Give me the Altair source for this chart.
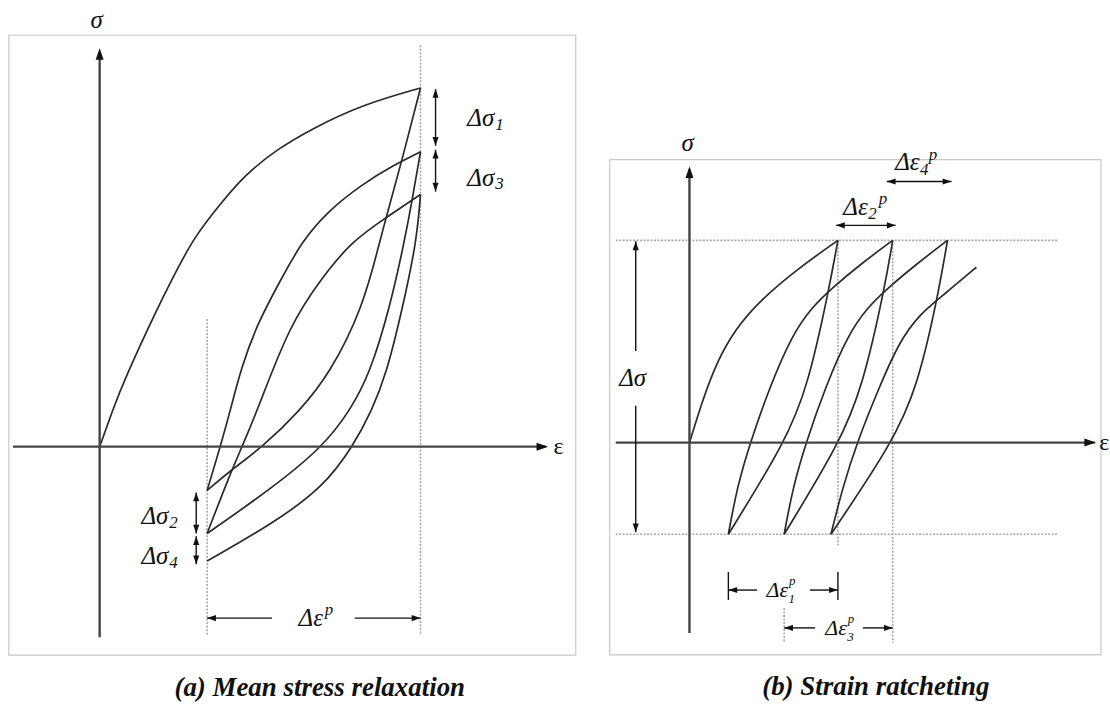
import altair as alt
import pandas as pd

# ================= Panel (a): mean stress relaxation =================
# strain (eps) / stress (sig) values (eps_max = 1, sig_peak1 = 1)
A_LOAD_EPS = [0, 0.040, 0.075, 0.180, 0.227, 0.295, 0.382, 0.453, 0.556, 0.661, 0.817, 1.0]
A_LOAD_SIG = [0, 0.100, 0.183, 0.386, 0.469, 0.586, 0.683, 0.758, 0.831, 0.886, 0.953, 1.0]
A_UNL1_EPS = [1.0, 0.941, 0.894, 0.873, 0.820, 0.717, 0.624, 0.509, 0.407, 0.335]
A_UNL1_SIG = [1.0, 0.794, 0.642, 0.572, 0.386, 0.203, 0.100, 0.0, -0.067, -0.122]
A_REL2_EPS = [0.335, 0.376, 0.407, 0.441, 0.491, 0.562, 0.630, 0.711, 0.817, 0.919, 1.0]
A_REL2_SIG = [-0.122, 0.0, 0.100, 0.219, 0.342, 0.461, 0.572, 0.656, 0.731, 0.786, 0.822]
A_UNL2_EPS = [1.0, 0.975, 0.950, 0.904, 0.842, 0.780, 0.696, 0.540, 0.335]
A_UNL2_SIG = [0.822, 0.692, 0.572, 0.386, 0.203, 0.100, 0.0, -0.114, -0.242]
A_REL3_EPS = [0.335, 0.407, 0.444, 0.491, 0.593, 0.696, 0.786, 0.888, 1.0]
A_REL3_SIG = [-0.242, -0.075, 0.0, 0.100, 0.342, 0.475, 0.572, 0.636, 0.703]
A_UNL3_EPS = [1.0, 0.988, 0.944, 0.894, 0.848, 0.789, 0.696, 0.540, 0.335]
A_UNL3_SIG = [0.703, 0.572, 0.386, 0.203, 0.100, 0.0, -0.114, -0.214, -0.319]

A_AXES = [(0.0, -0.531, 0.0, 1.10), (-0.270, 0.0, 1.39, 0.0)]
A_AXIS_HEADS = [(0.0, 1.111, 0), (1.398, 0.0, 90)]
A_DOTTED = [(1.0, 1.119, 1.0, -0.525), (0.335, 0.356, 0.335, -0.525)]
A_ARROWS = [(1.047, 0.997, 1.047, 0.839), (1.047, 0.828, 1.047, 0.711),
            (0.301, -0.128, 0.301, -0.242), (0.301, -0.250, 0.301, -0.328),
            (0.537, -0.478, 0.335, -0.478), (0.795, -0.478, 1.0, -0.478)]
A_HEADS = [(1.047, 0.997, 0), (1.047, 0.839, 180), (1.047, 0.828, 0), (1.047, 0.711, 180),
           (0.301, -0.128, 0), (0.301, -0.242, 180), (0.301, -0.250, 0), (0.301, -0.328, 180),
           (0.335, -0.478, 270), (1.0, -0.478, 90)]
A_BOX = [(-0.283, -0.581, 1.484, 1.147)]
A_ITALIC = [("σ", -0.009, 1.189)]
A_UPRIGHT = [("ε", 1.430, 0.0)]
A_MAIN = [("Δσ", 1.230, 0.917), ("Δσ", 1.230, 0.750), ("Δσ", 0.214, -0.194),
          ("Δσ", 0.214, -0.306), ("Δε", 0.696, -0.478)]
A_MAIN_SMALL = []
A_SUB = [("1", 1.233, 0.897), ("3", 1.233, 0.731), ("2", 0.217, -0.214), ("4", 0.217, -0.325)]
A_SUP = [("p", 0.702, -0.456)]
A_SUBSUP_SMALL = []
A_CENTER = []
A_CAPTION = [("(a) Mean stress relaxation", 0.686, -0.672)]
A_XDOM = [-0.3075, 1.5342]
A_YDOM = [-0.7167, 1.2389]

# ================= Panel (b): strain ratcheting =================
B_LOAD_EPS = [0, 0.087, 0.181, 0.309, 0.477, 0.725, 1.0]
B_LOAD_SIG = [0, 0.207, 0.394, 0.562, 0.704, 0.857, 1.0]
B_UNL1_EPS = [1.0, 0.940, 0.799, 0.644, 0.262]
B_UNL1_SIG = [1.0, 0.759, 0.281, 0.0, -0.453]
B_REL2_EPS = [0.262, 0.322, 0.409, 0.544, 0.691, 0.826, 0.960, 1.161, 1.369]
B_REL2_SIG = [-0.453, -0.217, 0.0, 0.281, 0.532, 0.670, 0.764, 0.887, 1.0]
B_UNL2_EPS = [1.369, 1.315, 1.168, 1.013, 0.638]
B_UNL2_SIG = [1.0, 0.764, 0.281, 0.0, -0.453]
B_REL3_EPS = [0.638, 0.698, 0.785, 0.919, 1.067, 1.201, 1.336, 1.537, 1.738]
B_REL3_SIG = [-0.453, -0.217, 0.0, 0.281, 0.532, 0.670, 0.764, 0.887, 1.0]
B_UNL3_EPS = [1.738, 1.671, 1.537, 1.369, 0.953]
B_UNL3_SIG = [1.0, 0.714, 0.281, 0.0, -0.453]
B_REL4_EPS = [0.953, 1.034, 1.128, 1.282, 1.416, 1.550, 1.718, 1.933]
B_REL4_SIG = [-0.453, -0.217, 0.0, 0.281, 0.502, 0.635, 0.734, 0.867]

B_AXES = [(0.0, -0.941, 0.0, 1.35), (-0.497, 0.0, 2.73, 0.0)]
B_AXIS_HEADS = [(0.0, 1.365, 0), (2.738, 0.0, 90)]
B_DOTTED = [(-0.497, 1.0, 2.483, 1.0), (-0.497, -0.453, 2.483, -0.453),
            (1.0, 1.0, 1.0, -0.507), (1.369, 1.0, 1.369, -0.990),
            (0.638, -0.818, 0.638, -0.990)]
B_ARROWS = [(-0.362, 0.453, -0.362, 0.995), (-0.362, 0.182, -0.362, -0.443),
            (0.987, 1.074, 1.389, 1.074), (1.329, 1.291, 1.765, 1.291),
            (0.456, -0.729, 0.262, -0.729), (0.812, -0.729, 1.0, -0.729),
            (0.262, -0.640, 0.262, -0.778), (1.0, -0.640, 1.0, -0.778),
            (0.846, -0.916, 0.638, -0.916), (1.168, -0.916, 1.369, -0.916)]
B_HEADS = [(-0.362, 0.995, 0), (-0.362, -0.443, 180), (0.987, 1.074, 270), (1.389, 1.074, 90),
           (1.329, 1.291, 270), (1.765, 1.291, 90), (0.262, -0.729, 270), (1.0, -0.729, 90),
           (0.638, -0.916, 270), (1.369, -0.916, 90)]
B_BOX = [(-0.537, -1.049, 2.772, 1.399)]
B_ITALIC = [("σ", -0.013, 1.483)]
B_UPRIGHT = [("ε", 2.760, 0.0)]
B_MAIN = [("Δε", 1.201, 1.167), ("Δε", 1.550, 1.389)]
B_MAIN_SMALL = [("Δε", 0.664, -0.729), ("Δε", 1.060, -0.916)]
B_SUB = [("2", 1.204, 1.128), ("4", 1.553, 1.350)]
B_SUP = [("p", 1.275, 1.202), ("p", 1.611, 1.424)]
B_SUBSUP_SMALL = [("1", 0.667, -0.775), ("p", 0.670, -0.683),
                  ("3", 1.063, -0.963), ("p", 1.066, -0.872)]
B_CENTER = [("Δσ", -0.383, 0.320)]
B_CAPTION = [("(b) Strain ratcheting", 1.255, -1.207)]
B_XDOM = [-0.644, 2.826]
B_YDOM = [-1.291, 2.177]

HEAD_PATH = "M0,0L0.9,2.6L-0.9,2.6Z"
FONT = "Liberation Serif"


def curves_df(curves):
    rows = []
    for name, (eps, sig) in curves.items():
        for i, (e, s) in enumerate(zip(eps, sig)):
            rows.append({"curve": name, "i": i, "eps": e, "sig": s})
    return pd.DataFrame(rows)


def seg_df(segs):
    return pd.DataFrame(segs, columns=["eps", "sig", "eps2", "sig2"])


def head_df(h):
    return pd.DataFrame(h, columns=["eps", "sig", "ang"])


def txt_df(t):
    return pd.DataFrame(t, columns=["t", "eps", "sig"])


def panel(curves, axes, axis_heads, dotted, arrows, heads, box, italic, upright,
          mains, mains_small, subs, sups, subsup_small, centers, caption,
          xdom, ydom, width, height, eps_align):
    xs = alt.Scale(domain=xdom, nice=False, zero=False)
    ys = alt.Scale(domain=ydom, nice=False, zero=False)
    X = alt.X("eps:Q", scale=xs, axis=None)
    Y = alt.Y("sig:Q", scale=ys, axis=None)

    def rules(segs, **kw):
        return alt.Chart(seg_df(segs)).mark_rule(**kw).encode(
            x=X, y=Y, x2="eps2:Q", y2="sig2:Q")

    def heads_layer(h, size):
        return alt.Chart(head_df(h)).mark_point(
            shape=HEAD_PATH, filled=True, color="#111111", opacity=1, size=size,
            strokeWidth=0).encode(x=X, y=Y, angle=alt.Angle("ang:Q", scale=None))

    def texts(t, **kw):
        return alt.Chart(txt_df(t)).mark_text(font=FONT, baseline="middle",
                                              color="#111111", **kw).encode(
            x=X, y=Y, text="t:N")

    layers = [
        alt.Chart(pd.DataFrame(box, columns=["eps", "sig", "eps2", "sig2"])).mark_rect(
            fillOpacity=0, stroke="#c8c8c8", strokeWidth=1.2).encode(
            x=X, y=Y, x2="eps2:Q", y2="sig2:Q"),
        rules(dotted, color="#a8a8a8", strokeWidth=1.6, strokeDash=[2, 1.5]),
        alt.Chart(curves_df(curves)).mark_line(
            interpolate="basis", color="#2a2a2a", strokeWidth=1.7).encode(
            x=X, y=Y, detail="curve:N", order="i:Q"),
        rules(axes, color="#454545", strokeWidth=2.4),
        rules(arrows, color="#111111", strokeWidth=1.4),
        heads_layer(axis_heads, 80),
        heads_layer(heads, 46),
        texts(italic, fontSize=25, fontStyle="italic", align="center"),
        texts(upright, fontSize=24, align=eps_align),
        texts(mains, fontSize=25, fontStyle="italic", align="right"),
        texts(subs, fontSize=17, fontStyle="italic", align="left"),
        texts(sups, fontSize=17, fontStyle="italic", align="left"),
        texts(caption, fontSize=27, fontStyle="italic", fontWeight="bold", align="center"),
    ]
    if mains_small:
        layers.append(texts(mains_small, fontSize=22, fontStyle="italic", align="right"))
        layers.append(texts(subsup_small, fontSize=13, fontStyle="italic", align="left"))
    if centers:
        layers.append(texts(centers, fontSize=25, fontStyle="italic", align="center"))
    return alt.layer(*layers).properties(width=width, height=height)


panel_a = panel(
    {"load": (A_LOAD_EPS, A_LOAD_SIG), "u1": (A_UNL1_EPS, A_UNL1_SIG),
     "r2": (A_REL2_EPS, A_REL2_SIG), "u2": (A_UNL2_EPS, A_UNL2_SIG),
     "r3": (A_REL3_EPS, A_REL3_SIG), "u3": (A_UNL3_EPS, A_UNL3_SIG)},
    A_AXES, A_AXIS_HEADS, A_DOTTED, A_ARROWS, A_HEADS, A_BOX, A_ITALIC, A_UPRIGHT,
    A_MAIN, A_MAIN_SMALL, A_SUB, A_SUP, A_SUBSUP_SMALL, A_CENTER, A_CAPTION,
    A_XDOM, A_YDOM, 593, 704, "center")

panel_b = panel(
    {"load": (B_LOAD_EPS, B_LOAD_SIG), "u1": (B_UNL1_EPS, B_UNL1_SIG),
     "r2": (B_REL2_EPS, B_REL2_SIG), "u2": (B_UNL2_EPS, B_UNL2_SIG),
     "r3": (B_REL3_EPS, B_REL3_SIG), "u3": (B_UNL3_EPS, B_UNL3_SIG),
     "r4": (B_REL4_EPS, B_REL4_SIG)},
    B_AXES, B_AXIS_HEADS, B_DOTTED, B_ARROWS, B_HEADS, B_BOX, B_ITALIC, B_UPRIGHT,
    B_MAIN, B_MAIN_SMALL, B_SUB, B_SUP, B_SUBSUP_SMALL, B_CENTER, B_CAPTION,
    B_XDOM, B_YDOM, 517, 704, "left")

chart = alt.hconcat(panel_a, panel_b, spacing=0).properties(
    padding=0, background="white"
).configure_view(stroke="transparent")

chart.save("out.html", embed_options={"renderer": "svg", "actions": False})
